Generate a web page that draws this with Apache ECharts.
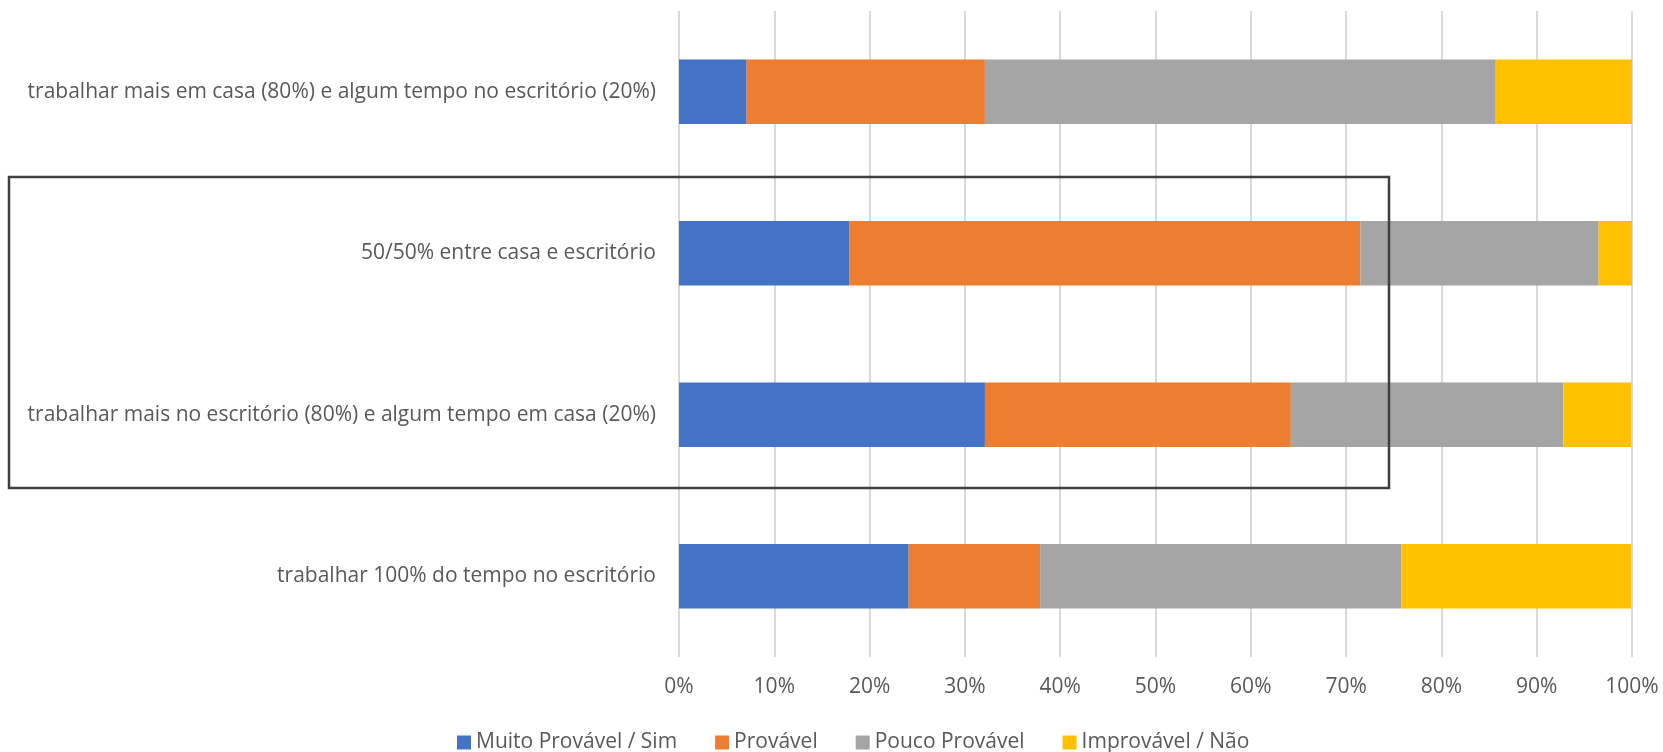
<!DOCTYPE html>
<html>
<head>
<meta charset="utf-8">
<script src="https://cdn.jsdelivr.net/npm/echarts@6/dist/echarts.min.js"></script>
<style>
  html, body { margin: 0; padding: 0; background: #fff; }
  #chart { width: 1663px; height: 752px; }
</style>
</head>
<body>
<div id="chart"></div>
<script>
// categories, top to bottom
var categories = [
  'trabalhar mais em casa (80%) e algum tempo no escritório (20%)',
  '50/50% entre casa e escritório',
  'trabalhar mais no escritório (80%) e algum tempo em casa (20%)',
  'trabalhar 100% do tempo no escritório'
];
// shares in percent, one per category
var muitoProvavel = [7.1, 17.9, 32.1, 24.1];
var provavel      = [25.0, 53.6, 32.1, 13.8];
var poucoProvavel = [53.6, 25.0, 28.6, 37.9];
var improvavel    = [14.3, 3.6, 7.1, 24.1];
var seriesNames = ['Muito Provável / Sim', 'Provável', 'Pouco Provável', 'Improvável / Não'];
var colors = ['#4472C4', '#ED7D31', '#A5A5A5', '#FFC000'];

var font = '"Open Sans", sans-serif';
var chart = echarts.init(document.getElementById('chart'));

function bar(name, data, i) {
  return {
    name: name,
    type: 'bar',
    stack: 'total',
    data: data,
    barWidth: '40%',
    itemStyle: { color: colors[i] },
    emphasis: { disabled: true }
  };
}

chart.setOption({
  animation: false,
  grid: { left: 679, right: 31, top: 11, bottom: 95 },
  legend: {
    top: 727,
    left: 452,
    itemWidth: 14,
    itemHeight: 14,
    itemGap: 38,
    icon: 'rect',
    textStyle: { color: '#595959', fontSize: 21, fontFamily: font },
    data: seriesNames
  },
  xAxis: {
    type: 'value',
    min: 0,
    max: 100,
    interval: 10,
    axisLine: { show: false },
    axisTick: { show: false },
    splitLine: { lineStyle: { color: '#D9D9D9', width: 2 } },
    axisLabel: {
      formatter: '{value}%',
      color: '#595959',
      fontSize: 21,
      fontFamily: font,
      margin: 20
    }
  },
  yAxis: {
    type: 'category',
    inverse: true,
    data: categories,
    axisLine: { show: false },
    axisTick: { show: false },
    axisLabel: { color: '#595959', fontSize: 21, fontFamily: font, margin: 23 }
  },
  graphic: [{
    type: 'rect',
    shape: { x: 9, y: 177, width: 1380, height: 311 },
    style: { fill: 'none', stroke: '#3F3F3F', lineWidth: 2.5 },
    z: 100
  }],
  series: [
    bar(seriesNames[0], muitoProvavel, 0),
    bar(seriesNames[1], provavel, 1),
    bar(seriesNames[2], poucoProvavel, 2),
    bar(seriesNames[3], improvavel, 3)
  ]
});
</script>
</body>
</html>
